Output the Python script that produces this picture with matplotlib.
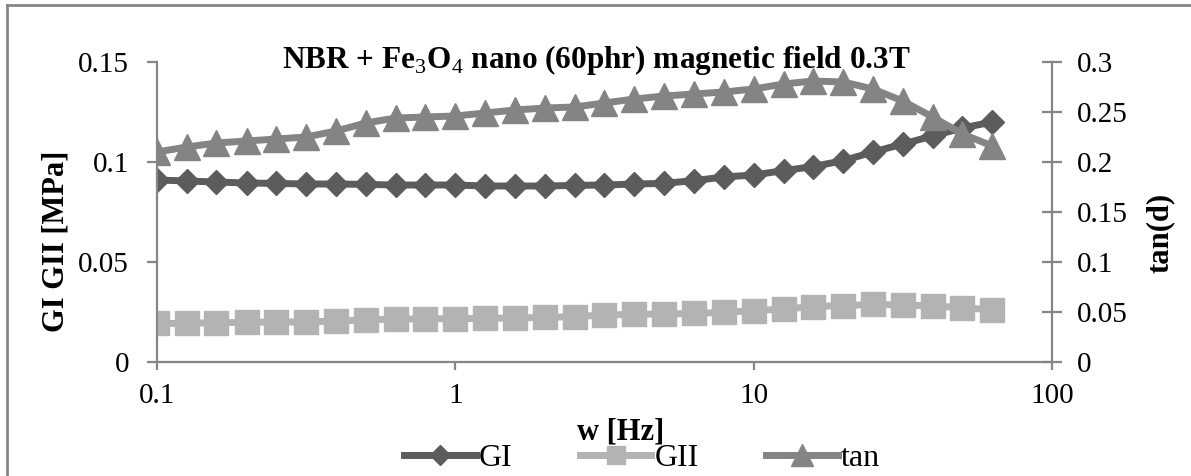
import matplotlib.pyplot as plt
from matplotlib.lines import Line2D
from matplotlib.ticker import FixedLocator, FuncFormatter
import numpy as np

# frequencies [Hz], 10 points per decade
freq = [0.1, 0.126, 0.158, 0.2, 0.251, 0.316, 0.398, 0.501, 0.631, 0.794,
        1.0, 1.26, 1.58, 2.0, 2.51, 3.16, 3.98, 5.01, 6.31, 7.94,
        10.0, 12.6, 15.8, 20.0, 25.1, 31.6, 39.8, 50.1, 63.1]

gi = [0.0910, 0.0905, 0.0900, 0.0895, 0.0893, 0.0890, 0.0890, 0.0888, 0.0885, 0.0885,
      0.0885, 0.0880, 0.0880, 0.0880, 0.0883, 0.0885, 0.0890, 0.0893, 0.0907, 0.0925,
      0.0935, 0.0957, 0.0977, 0.1007, 0.1050, 0.1090, 0.1130, 0.1170, 0.1200]

gii = [0.0193, 0.0193, 0.0197, 0.0198, 0.0200, 0.0200, 0.0205, 0.0210, 0.0215, 0.0215,
       0.0217, 0.0218, 0.0220, 0.0223, 0.0227, 0.0235, 0.0238, 0.0240, 0.0243, 0.0248,
       0.0257, 0.0265, 0.0277, 0.0282, 0.0288, 0.0285, 0.0280, 0.0272, 0.0260]

tan_d = [0.210, 0.215, 0.219, 0.221, 0.223, 0.225, 0.231, 0.239, 0.244, 0.245,
         0.246, 0.249, 0.252, 0.254, 0.255, 0.259, 0.263, 0.266, 0.268, 0.270,
         0.273, 0.278, 0.281, 0.280, 0.273, 0.261, 0.245, 0.228, 0.216]

xticks = [0.1, 1, 10, 100]
xticklabels = ["0.1", "1", "10", "100"]

#------------------STYLE------------------#
W, H = 1191, 476
plt.rcParams['font.family'] = ['Liberation Serif', 'DejaVu Serif']
plt.rcParams['mathtext.fontset'] = 'custom'
plt.rcParams['mathtext.rm'] = 'Liberation Serif'
plt.rcParams['mathtext.bf'] = 'Liberation Serif:bold'
fs = 21      # tick labels
fsb = 22     # bold titles
fsl = 23     # legend
axcol = '#868686'
c_gi = '#5c5c5c'
c_gii = '#b3b3b3'
c_tan = '#848484'

fig = plt.figure(figsize=(W/100, H/100), dpi=100)
ax = fig.add_axes([157/W, 1-362/H, (1052-157)/W, 300/H])
ax2 = ax.twinx()

l1, = ax.plot(freq, gi, color=c_gi, lw=5, marker='D', ms=12.5, label='GI')
l2, = ax.plot(freq, gii, color=c_gii, lw=5, marker='s', ms=17, label='GII')
l3, = ax2.plot(freq, tan_d, color=c_tan, lw=5, marker='^', ms=19, label='tan')

ax.set_xscale('log')
ax.set_xlim(0.1, 100)
ax.set_ylim(0, 0.15)
ax2.set_ylim(0, 0.3)

ax.xaxis.set_major_locator(FixedLocator(xticks))
ax.set_xticklabels(xticklabels)
ax.xaxis.set_minor_locator(FixedLocator([]))
ax.set_yticks([0, 0.05, 0.1, 0.15])
ax2.set_yticks([0, 0.05, 0.1, 0.15, 0.2, 0.25, 0.3])
fmt = FuncFormatter(lambda v, p: "%g" % v)
ax.yaxis.set_major_formatter(fmt)
ax2.yaxis.set_major_formatter(fmt)

for a in (ax, ax2):
    for s in a.spines.values():
        s.set_color(axcol)
        s.set_linewidth(1.6)
    a.spines['top'].set_visible(False)
ax.spines['right'].set_visible(False)
ax2.spines['left'].set_visible(False)
ax2.spines['bottom'].set_visible(False)

ax.tick_params(axis='y', direction='out', length=7, width=1.6, color=axcol, labelsize=fs, pad=13)
ax.tick_params(axis='x', direction='out', length=6, width=1.6, color=axcol, labelsize=fs, pad=9)
ax2.tick_params(axis='y', direction='inout', length=14, width=1.6, color=axcol, labelsize=fs, pad=11)

# titles
fig.text(596/W, 1-60/H, r"NBR + Fe$_3$O$_4$ nano (60phr) magnetic field 0.3T",
         ha='center', va='center', fontsize=22.5, fontweight='bold')
fig.text(621/W, 1-432/H, "w [Hz]", ha='center', va='center', fontsize=fsb, fontweight='bold')
fig.text(56/W, 1-241/H, "GI GII [MPa]", ha='center', va='center', rotation=90,
         fontsize=fsb, fontweight='bold')
fig.text(1160/W, 1-233/H, "tan(d)", ha='center', va='center', rotation=90,
         fontsize=fsb, fontweight='bold')

fig.legend(handles=[l1, l2, l3], loc='center', bbox_to_anchor=(642/W, 1-458/H),
           ncol=3, frameon=False, fontsize=fsl, handlelength=2.25, handletextpad=0.1,
           columnspacing=2.1, borderpad=0, markerscale=0.8)

# outer chart border (only top and left edges fall inside the picture)
fig.add_artist(Line2D([7/W, 7/W], [0, 1-5/H], transform=fig.transFigure, color=axcol, lw=2))
fig.add_artist(Line2D([7/W, 1], [1-5/H, 1-5/H], transform=fig.transFigure, color=axcol, lw=2))

fig.savefig("out.png", dpi=100)
